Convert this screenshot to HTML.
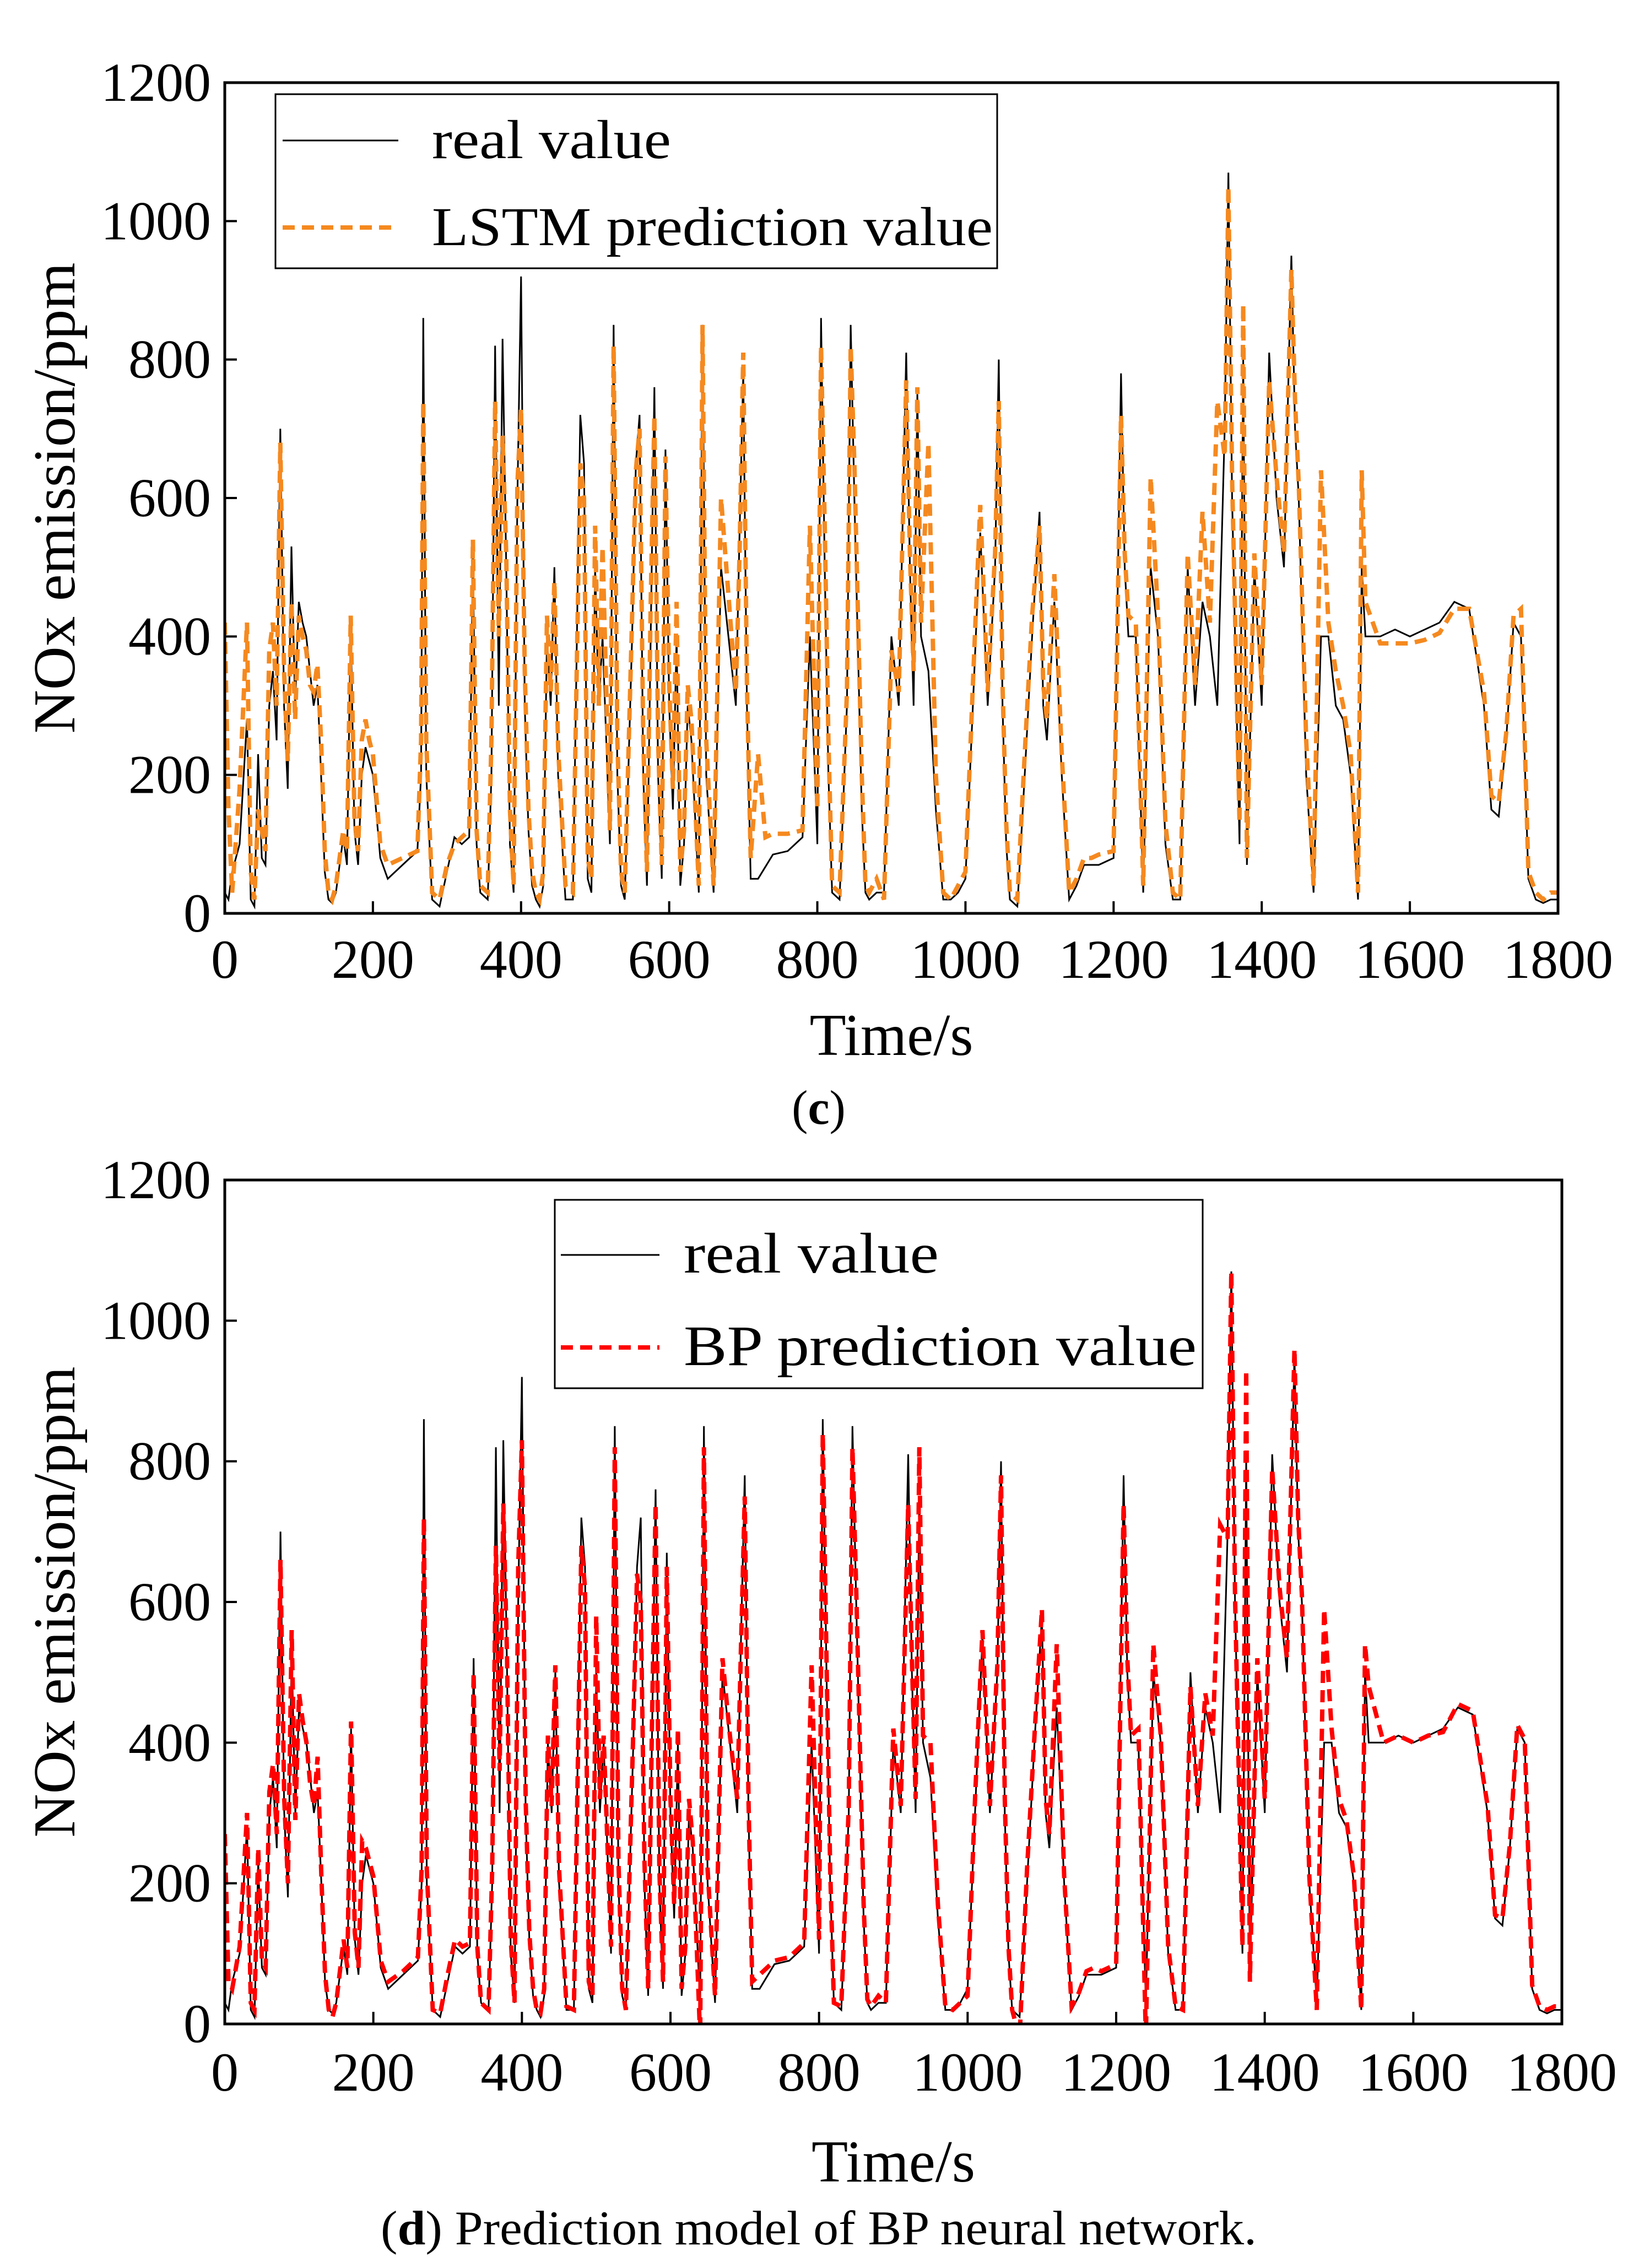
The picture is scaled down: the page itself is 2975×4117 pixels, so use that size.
<!DOCTYPE html>
<html><head><meta charset="utf-8"><style>
body{margin:0;background:#fff;}
svg text{font-family:"Liberation Serif",serif;fill:#000;}
</style></head><body>
<svg id="fig" width="2975" height="4112" xmlns="http://www.w3.org/2000/svg">
<rect width="2975" height="4112" fill="#fff"/>
<g id="c1"></g>
<g id="c2"></g>
<text x="1486" y="2040" font-size="88" text-anchor="middle">(<tspan font-weight="bold">c</tspan>)</text>
<text x="1486" y="4074" font-size="88" text-anchor="middle" textLength="1590" lengthAdjust="spacingAndGlyphs">(<tspan font-weight="bold">d</tspan>) Prediction model of BP neural network.</text>
</svg>
<script>
const xTicks=[0,200,400,600,800,1000,1200,1400,1600,1800];
const yTicks=[0,200,400,600,800,1000,1200];
const realPts=[[0,30],[5,20],[10,60],[20,100],[30,280],[35,20],[40,10],[45,230],[50,80],[55,70],[60,300],[65,350],[70,250],[75,700],[80,300],[85,180],[90,530],[95,300],[100,450],[105,420],[110,400],[115,350],[120,300],[125,330],[130,200],[135,60],[140,20],[145,15],[150,30],[160,110],[165,70],[170,420],[175,120],[180,70],[185,200],[190,240],[195,220],[200,200],[210,80],[220,50],[240,70],[260,90],[265,200],[268,860],[272,200],[280,20],[290,10],[300,60],[310,110],[320,100],[330,110],[335,520],[340,100],[345,30],[355,20],[360,200],[365,820],[370,300],[375,830],[380,500],[385,100],[390,30],[395,600],[400,920],[405,300],[410,120],[415,40],[420,20],[425,10],[430,40],[435,400],[440,300],[445,500],[450,200],[460,20],[470,20],[480,720],[485,650],[490,50],[495,30],[500,500],[505,300],[510,400],[520,100],[525,850],[530,200],[535,40],[540,20],[550,400],[555,650],[560,720],[565,200],[570,40],[575,400],[580,760],[585,200],[590,50],[595,670],[600,300],[605,150],[610,400],[615,40],[620,100],[625,300],[630,250],[640,30],[645,850],[650,200],[660,30],[670,500],[680,400],[690,300],[695,550],[700,780],[705,300],[710,50],[720,50],[740,85],[760,90],[780,110],[790,400],[800,100],[805,860],[810,500],[815,200],[820,30],[830,20],[840,300],[845,850],[850,600],[860,150],[865,30],[870,20],[880,30],[890,30],[900,400],[910,300],[920,810],[925,500],[930,300],[935,750],[940,400],[950,350],[960,150],[970,20],[980,20],[990,30],[1000,50],[1010,300],[1020,550],[1030,300],[1040,500],[1045,800],[1050,300],[1055,100],[1060,20],[1070,10],[1080,200],[1090,400],[1100,580],[1105,300],[1110,250],[1120,450],[1130,200],[1140,20],[1150,40],[1160,70],[1170,70],[1180,70],[1200,80],[1210,780],[1215,500],[1220,400],[1230,400],[1240,30],[1250,500],[1260,400],[1270,100],[1280,20],[1290,20],[1300,500],[1310,300],[1320,450],[1330,400],[1340,300],[1350,700],[1355,1070],[1360,600],[1370,100],[1375,800],[1380,70],[1390,500],[1400,300],[1410,810],[1420,600],[1430,500],[1440,950],[1445,700],[1450,600],[1460,200],[1470,30],[1480,400],[1490,400],[1500,300],[1510,280],[1520,200],[1530,20],[1535,500],[1540,400],[1560,400],[1580,410],[1600,400],[1620,410],[1640,420],[1660,450],[1680,440],[1700,300],[1710,150],[1720,140],[1730,250],[1740,420],[1750,400],[1760,50],[1770,20],[1780,15],[1790,20],[1800,20]];
const lstmPts=[[0,420],[5,150],[10,30],[20,180],[30,420],[35,60],[40,20],[45,150],[50,120],[55,90],[60,380],[65,420],[70,300],[75,680],[80,350],[85,220],[90,450],[95,280],[100,430],[105,400],[110,380],[115,330],[120,320],[125,360],[130,250],[135,90],[140,30],[145,20],[150,40],[160,120],[165,90],[170,430],[175,140],[180,90],[185,250],[190,280],[195,250],[200,230],[210,100],[220,70],[240,80],[260,90],[265,250],[268,740],[272,250],[280,30],[290,20],[300,70],[310,100],[320,110],[330,120],[335,540],[340,120],[345,40],[355,30],[360,250],[365,740],[370,400],[375,690],[380,520],[385,150],[390,40],[395,620],[400,730],[405,350],[410,150],[415,60],[420,30],[425,20],[430,60],[435,430],[440,320],[445,480],[450,240],[460,40],[470,30],[480,650],[485,600],[490,80],[495,50],[500,560],[505,300],[510,530],[520,120],[525,820],[530,250],[535,60],[540,30],[550,430],[555,640],[560,700],[565,250],[570,60],[575,450],[580,720],[585,250],[590,70],[595,660],[600,330],[605,180],[610,450],[615,60],[620,120],[625,330],[630,280],[640,40],[645,850],[650,250],[660,40],[670,600],[680,460],[690,320],[695,520],[700,810],[705,330],[710,80],[720,230],[730,110],[740,115],[760,115],[780,120],[790,560],[800,150],[805,820],[810,560],[815,250],[820,40],[830,30],[840,320],[845,820],[850,650],[860,200],[865,40],[870,30],[880,50],[890,20],[900,380],[910,320],[920,770],[925,520],[930,350],[935,760],[940,420],[950,680],[960,200],[970,30],[980,20],[990,40],[1000,60],[1010,330],[1020,590],[1030,320],[1040,520],[1045,740],[1050,330],[1055,130],[1060,30],[1070,20],[1080,230],[1090,430],[1100,560],[1105,330],[1110,280],[1120,490],[1130,230],[1140,30],[1150,50],[1160,80],[1170,80],[1180,85],[1200,90],[1210,720],[1215,520],[1220,430],[1230,420],[1240,40],[1250,630],[1260,430],[1270,130],[1280,30],[1290,20],[1300,520],[1310,330],[1320,580],[1330,420],[1340,740],[1350,660],[1355,1050],[1360,630],[1370,130],[1375,880],[1380,80],[1390,520],[1400,330],[1410,770],[1420,630],[1430,520],[1440,930],[1445,740],[1450,620],[1460,250],[1470,40],[1480,640],[1490,420],[1500,350],[1510,300],[1520,230],[1530,30],[1535,640],[1540,450],[1560,390],[1580,390],[1600,390],[1620,395],[1640,405],[1660,440],[1680,440],[1700,320],[1710,170],[1720,160],[1730,260],[1740,430],[1750,440],[1760,60],[1770,30],[1780,20],[1790,30],[1800,30]];
const bpPts=[[0,270],[5,60],[10,50],[20,110],[30,300],[35,30],[40,20],[45,250],[50,90],[55,80],[60,330],[65,370],[70,270],[75,660],[80,320],[85,200],[90,560],[95,290],[100,470],[105,430],[110,400],[115,340],[120,310],[125,380],[130,210],[135,70],[140,20],[145,10],[150,30],[160,120],[165,80],[170,430],[175,130],[180,80],[185,260],[190,250],[195,230],[200,210],[210,90],[220,60],[240,75],[260,95],[265,220],[268,720],[272,220],[280,20],[290,15],[300,70],[310,120],[320,110],[330,115],[335,500],[340,110],[345,30],[355,20],[360,220],[365,680],[370,360],[375,740],[380,520],[385,120],[390,30],[395,650],[400,830],[405,320],[410,130],[415,50],[420,20],[425,15],[430,50],[435,410],[440,310],[445,510],[450,220],[460,25],[470,20],[480,680],[485,620],[490,60],[495,40],[500,580],[505,320],[510,410],[520,110],[525,820],[530,230],[535,50],[540,20],[550,420],[555,640],[560,600],[565,230],[570,50],[575,420],[580,740],[585,220],[590,60],[595,650],[600,320],[605,170],[610,420],[615,50],[620,110],[625,320],[630,260],[640,-20],[645,820],[650,220],[660,40],[670,520],[680,410],[690,320],[695,540],[700,750],[705,320],[710,60],[720,70],[740,90],[760,95],[780,115],[790,510],[800,120],[805,840],[810,520],[815,220],[820,30],[830,25],[840,310],[845,820],[850,620],[860,170],[865,35],[870,25],[880,40],[890,30],[900,420],[910,310],[920,740],[925,520],[930,320],[935,820],[940,410],[950,400],[960,170],[970,25],[980,20],[990,30],[1000,40],[1010,320],[1020,560],[1030,310],[1040,510],[1045,780],[1050,320],[1055,110],[1060,20],[1070,-20],[1080,220],[1090,410],[1100,590],[1105,320],[1110,270],[1120,540],[1130,210],[1140,25],[1150,45],[1160,75],[1170,80],[1180,75],[1200,85],[1210,740],[1215,520],[1220,410],[1230,420],[1240,-20],[1250,540],[1260,410],[1270,110],[1280,25],[1290,20],[1300,480],[1310,310],[1320,470],[1330,410],[1340,710],[1350,690],[1355,1070],[1360,610],[1370,110],[1375,930],[1380,60],[1390,520],[1400,320],[1410,790],[1420,620],[1430,520],[1440,960],[1445,720],[1450,610],[1460,210],[1470,20],[1480,590],[1490,420],[1500,320],[1510,290],[1520,210],[1530,20],[1535,540],[1540,480],[1560,400],[1580,410],[1600,400],[1620,410],[1640,415],[1660,455],[1680,445],[1700,310],[1710,155],[1720,150],[1730,255],[1740,425],[1750,405],[1760,55],[1770,25],[1780,20],[1790,25],[1800,25]];
const NS="http://www.w3.org/2000/svg";
function mk(p,tag,attrs){const e=document.createElementNS(NS,tag);for(const k in attrs)e.setAttribute(k,attrs[k]);p.appendChild(e);return e;}
function chart(g,box,pred,color,predLabel,leg,xLabY,titleY){
  const sx=v=>box.x0+(v-0)/1800*(box.x1-box.x0);
  const sy=v=>box.y1-(v-0)/1200*(box.y1-box.y0);
  const clip=mk(g,'clipPath',{id:g.id+'clip'});mk(clip,'rect',{x:box.x0,y:box.y0,width:box.x1-box.x0,height:box.y1-box.y0});
  const d1=realPts.map((p,i)=>(i?'L':'M')+sx(p[0]).toFixed(1)+','+sy(p[1]).toFixed(1)).join('');
  const l1=mk(g,'path',{d:d1,fill:'none',stroke:'#000','stroke-width':3,'clip-path':'url(#'+g.id+'clip)'});
  
  
  const d2=pred.map((p,i)=>(i?'L':'M')+sx(p[0]).toFixed(1)+','+sy(p[1]).toFixed(1)).join('');
  const l2=mk(g,'path',{d:d2,fill:'none',stroke:color,'stroke-width':8,'stroke-dasharray':'22,13','clip-path':'url(#'+g.id+'clip)'});
  
  
  const fr=mk(g,'rect',{x:box.x0,y:box.y0,width:box.x1-box.x0,height:box.y1-box.y0,fill:'none',stroke:'#000','stroke-width':5});
  
  
  xTicks.forEach(v=>{
    mk(g,'line',{x1:sx(v),x2:sx(v),y1:box.y1,y2:box.y1-22,stroke:'#000','stroke-width':4});
    const t=mk(g,'text',{x:sx(v),y:xLabY,'font-size':100,'text-anchor':'middle'});t.textContent=v;
    
    
  });
  yTicks.forEach(v=>{
    mk(g,'line',{x1:box.x0,x2:box.x0+22,y1:sy(v),y2:sy(v),stroke:'#000','stroke-width':4});
    const t=mk(g,'text',{x:box.x0-25,y:sy(v)+33,'font-size':100,'text-anchor':'end'});t.textContent=v;
    
    
  });
  const xt=mk(g,'text',{x:(box.x0+box.x1)/2,y:titleY,'font-size':108,'text-anchor':'middle',textLength:297,lengthAdjust:'spacingAndGlyphs'});xt.textContent='Time/s';
  
  
  const cy=(box.y0+box.y1)/2;
  const yt=mk(g,'text',{x:0,y:0,'font-size':108,'text-anchor':'middle',textLength:855,lengthAdjust:'spacingAndGlyphs',transform:'translate(135,'+cy+') rotate(-90)'});yt.textContent='NOx emission/ppm';
  
  
  const lg=mk(g,'g',{});
  
  
  mk(lg,'rect',{x:leg.x0,y:leg.y0,width:leg.x1-leg.x0,height:leg.y1-leg.y0,fill:'#fff',stroke:'#000','stroke-width':3});
  mk(lg,'line',{x1:leg.sx0,x2:leg.sx1,y1:leg.r1,y2:leg.r1,stroke:'#000','stroke-width':3});
  mk(lg,'line',{x1:leg.sx0,x2:leg.sx1,y1:leg.r2,y2:leg.r2,stroke:color,'stroke-width':8,'stroke-dasharray':'22,13'});
  const a=mk(lg,'text',{x:leg.tx,y:leg.r1+32,'font-size':leg.fs,textLength:leg.w1,lengthAdjust:'spacingAndGlyphs'});a.textContent='real value';
  
  
  const b=mk(lg,'text',{x:leg.tx,y:leg.r2+32,'font-size':leg.fs,textLength:leg.w2,lengthAdjust:'spacingAndGlyphs'});b.textContent=predLabel;
  
  
}
chart(document.getElementById('c1'),{x0:408,x1:2828,y0:150,y1:1658},lstmPts,'#f5891f','LSTM prediction value',
 {x0:500,x1:1810,y0:171,y1:487,sx0:513,sx1:723,r1:255,r2:413,tx:784,fs:100,w1:434,w2:1018},1775,1915);
chart(document.getElementById('c2'),{x0:408,x1:2835,y0:2142,y1:3674},bpPts,'#ff0000','BP prediction value',
 {x0:1007,x1:2183,y0:2178,y1:2520,sx0:1018,sx1:1197,r1:2278,r2:2446,tx:1241,fs:104,w1:463,w2:931},3795,3960);
</script>
</body></html>
